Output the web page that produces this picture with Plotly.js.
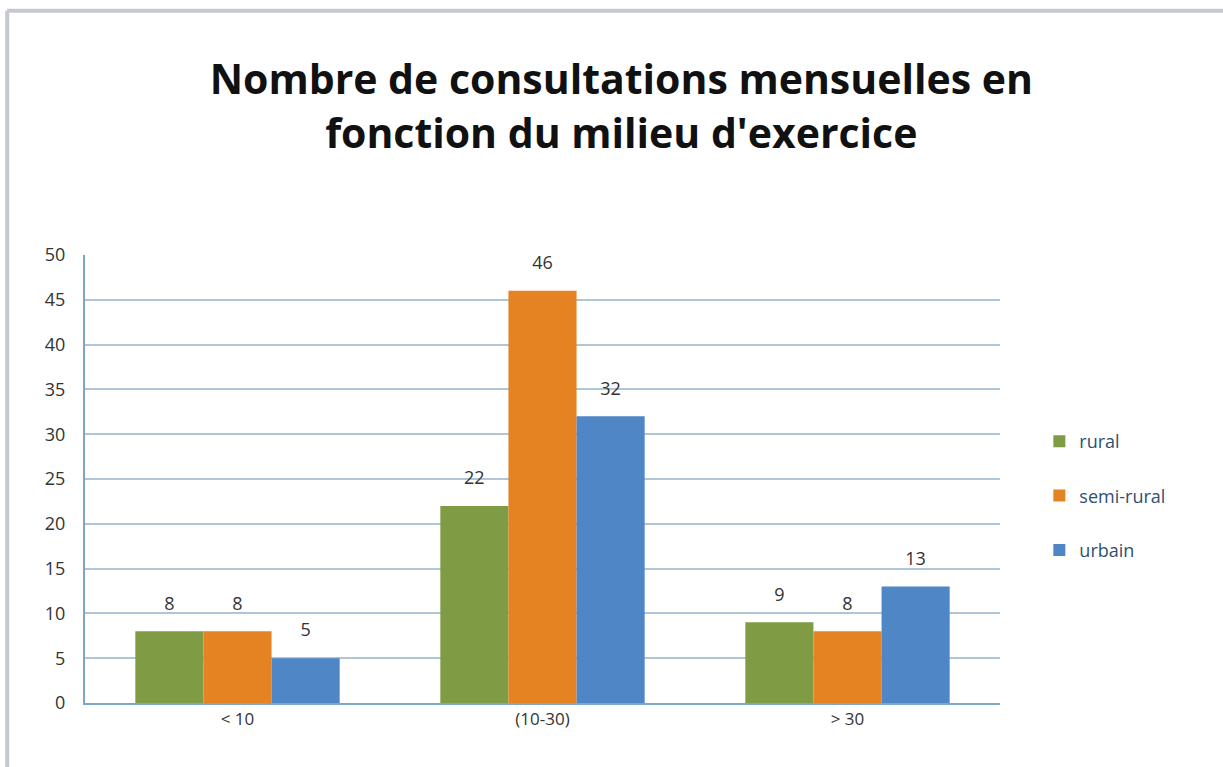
<!DOCTYPE html>
<html>
<head>
<meta charset="utf-8">
<script src="https://cdn.plot.ly/plotly-3.0.1.min.js"></script>
<style>html,body{margin:0;padding:0;background:#fff;}#chart{width:1223px;height:767px;}</style>
</head>
<body>
<div id="chart"></div>
<script>
const categories = ['< 10', '(10-30)', '> 30'];
const seriesNames = ['rural', 'semi-rural', 'urbain'];
const rural = [8, 22, 9];
const semiRural = [8, 46, 8];
const urbain = [5, 32, 13];
const yTicks = [0, 5, 10, 15, 20, 25, 30, 35, 40, 45, 50];
const colors = ['#7f9c45', '#e58322', '#4f86c6'];

const values = [rural, semiRural, urbain];
const bars = values.map((v, i) => ({
  type: 'bar',
  name: seriesNames[i],
  x: categories,
  y: v,
  offsetgroup: 'o' + i,
  marker: {color: colors[i]},
  legendgroup: 'g' + i
}));
const labels = values.map((v, i) => ({
  type: 'scatter',
  mode: 'markers+text',
  x: categories,
  y: v,
  text: v.map(String),
  textposition: 'top center',
  offsetgroup: 'o' + i,
  marker: {size: 26, color: 'rgba(0,0,0,0)'},
  cliponaxis: false,
  textfont: {family: 'Open Sans, sans-serif', size: 18, color: '#333'},
  showlegend: false,
  hoverinfo: 'skip',
  legendgroup: 'g' + i
}));

const layout = {
  width: 1223, height: 767,
  paper_bgcolor: '#fff', plot_bgcolor: '#fff',
  margin: {l: 85, r: 223, t: 255, b: 64},
  title: {
    text: "Nombre de consultations mensuelles en<br>fonction du milieu d'exercice",
    font: {family: 'Open Sans, sans-serif', size: 41, color: '#111', weight: 'bold'},
    x: 0.508, xanchor: 'center', y: 0.877, yanchor: 'middle'
  },
  barmode: 'group',
  bargap: 0.33,
  bargroupgap: 0,
  scattermode: 'group',
  scattergap: 0.33,
  xaxis: {
    type: 'category',
    showline: true, linecolor: '#7ea6c8', linewidth: 2,
    ticks: '', tickfont: {family: 'Open Sans, sans-serif', size: 17, color: '#333'},
    showgrid: false
  },
  yaxis: {
    range: [0, 50], tickvals: yTicks,
    showline: true, linecolor: '#7ea6c8', linewidth: 2,
    gridcolor: '#aec6d8', gridwidth: 2,
    ticks: '', ticklen: 0, ticklabelstandoff: 14,
    tickfont: {family: 'Open Sans, sans-serif', size: 18, color: '#333'},
    zeroline: false
  },
  showlegend: true,
  legend: {
    x: 1.043, xanchor: 'left', y: 0.625, yanchor: 'top',
    traceorder: 'grouped', tracegroupgap: 28,
    font: {family: 'Open Sans, sans-serif', size: 18, color: '#2f4f6f'},
    itemwidth: 30
  },
  shapes: [
    {type: 'line', xref: 'paper', yref: 'paper', x0: -0.085, x1: 1.245, y0: 1.545, y1: 1.545, line: {color: '#c3c9ce', width: 4}},
    {type: 'line', xref: 'paper', yref: 'paper', x0: -0.085, x1: -0.085, y0: 1.545, y1: -0.15, line: {color: '#c3c9ce', width: 4}}
  ]
};

Plotly.newPlot('chart', bars.concat(labels), layout, {displayModeBar: false, staticPlot: true});
</script>
</body>
</html>
